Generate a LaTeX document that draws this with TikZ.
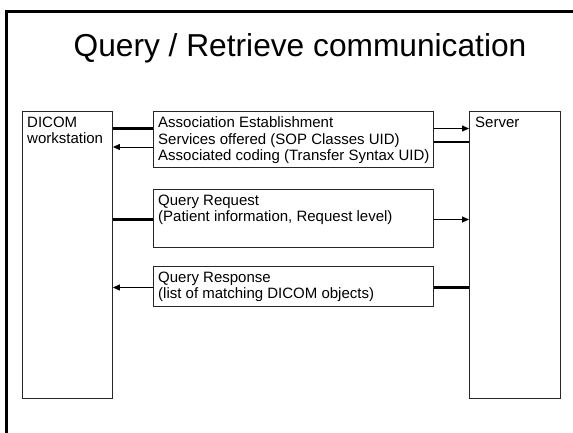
\documentclass[tikz,border=0pt]{standalone}
\usepackage{fontspec}
\setmainfont{Liberation Sans}
\usetikzlibrary{arrows.meta,calc}

\tikzset{
  frameline/.style={line width=3pt, line cap=rect},
  box/.style={draw=black!85, line width=0.9pt, rectangle, inner sep=0pt, anchor=north west},
  boxtext/.style={inner sep=0pt, anchor=north west, align=left,
    font=\fontsize{15}{16.5}\selectfont},
  heavy/.style={line width=2.2pt},
  msg/.style={line width=1pt, -{Triangle[length=7pt,width=6pt]}},
}

\begin{document}
\begin{tikzpicture}[x=1pt, y=-1pt]
\useasboundingbox (0,0) rectangle (573,432);

% slide frame, running off the right and bottom edges
\draw[frameline] (6.5,440) -- (6.5,11) -- (580,11);

% title
\node[font=\fontsize{31.7}{36}\selectfont, anchor=base] (title) at (300,56)
  {Query / Retrieve communication};

% the two end points
\node[box, minimum width=90pt, minimum height=287pt] (ws) at (22,111) {};
\node[boxtext] (wslabel) at ($(ws.north west)+(5,5.5)$) {DICOM\\workstation};
\node[box, minimum width=91pt, minimum height=287pt] (srv) at (469,111) {};
\node[boxtext] (srvlabel) at ($(srv.north west)+(6,5.5)$) {Server};

% message boxes
\node[box, minimum width=280pt, minimum height=56pt] (b1) at (153,111) {};
\node[boxtext] (t1) at ($(b1.north west)+(5,5.5)$)
  {Association Establishment\\Services offered (SOP Classes UID)\\Associated coding (Transfer Syntax UID)};
\node[box, minimum width=280pt, minimum height=58pt] (b2) at (153,189) {};
\node[boxtext] (t2) at ($(b2.north west)+(5,5.5)$)
  {Query Request\\(Patient information, Request level)};
\node[box, minimum width=280pt, minimum height=40pt] (b3) at (153,266) {};
\node[boxtext] (t3) at ($(b3.north west)+(5,5.5)$)
  {Query Response\\(list of matching DICOM objects)};

% connector heights
\coordinate (ya) at (0,128.5);
\coordinate (yb) at (0,147);
\coordinate (yc) at (0,142);
\coordinate (yd) at (0,219.5);
\coordinate (ye) at (0,287.5);

% association
\draw[heavy] (ws.east |- ya) -- (b1.west |- ya);
\draw[msg] (b1.west |- yb) -- (ws.east |- yb);
\draw[msg] (b1.east |- ya) -- (srv.west |- ya);
\draw[heavy] (srv.west |- yc) -- (b1.east |- yc);

% query request
\draw[heavy] (ws.east |- yd) -- (b2.west |- yd);
\draw[msg] (b2.east |- yd) -- (srv.west |- yd);

% query response
\draw[heavy] (srv.west |- ye) -- (b3.east |- ye);
\draw[msg] (b3.west |- ye) -- (ws.east |- ye);
\end{tikzpicture}
\end{document}
